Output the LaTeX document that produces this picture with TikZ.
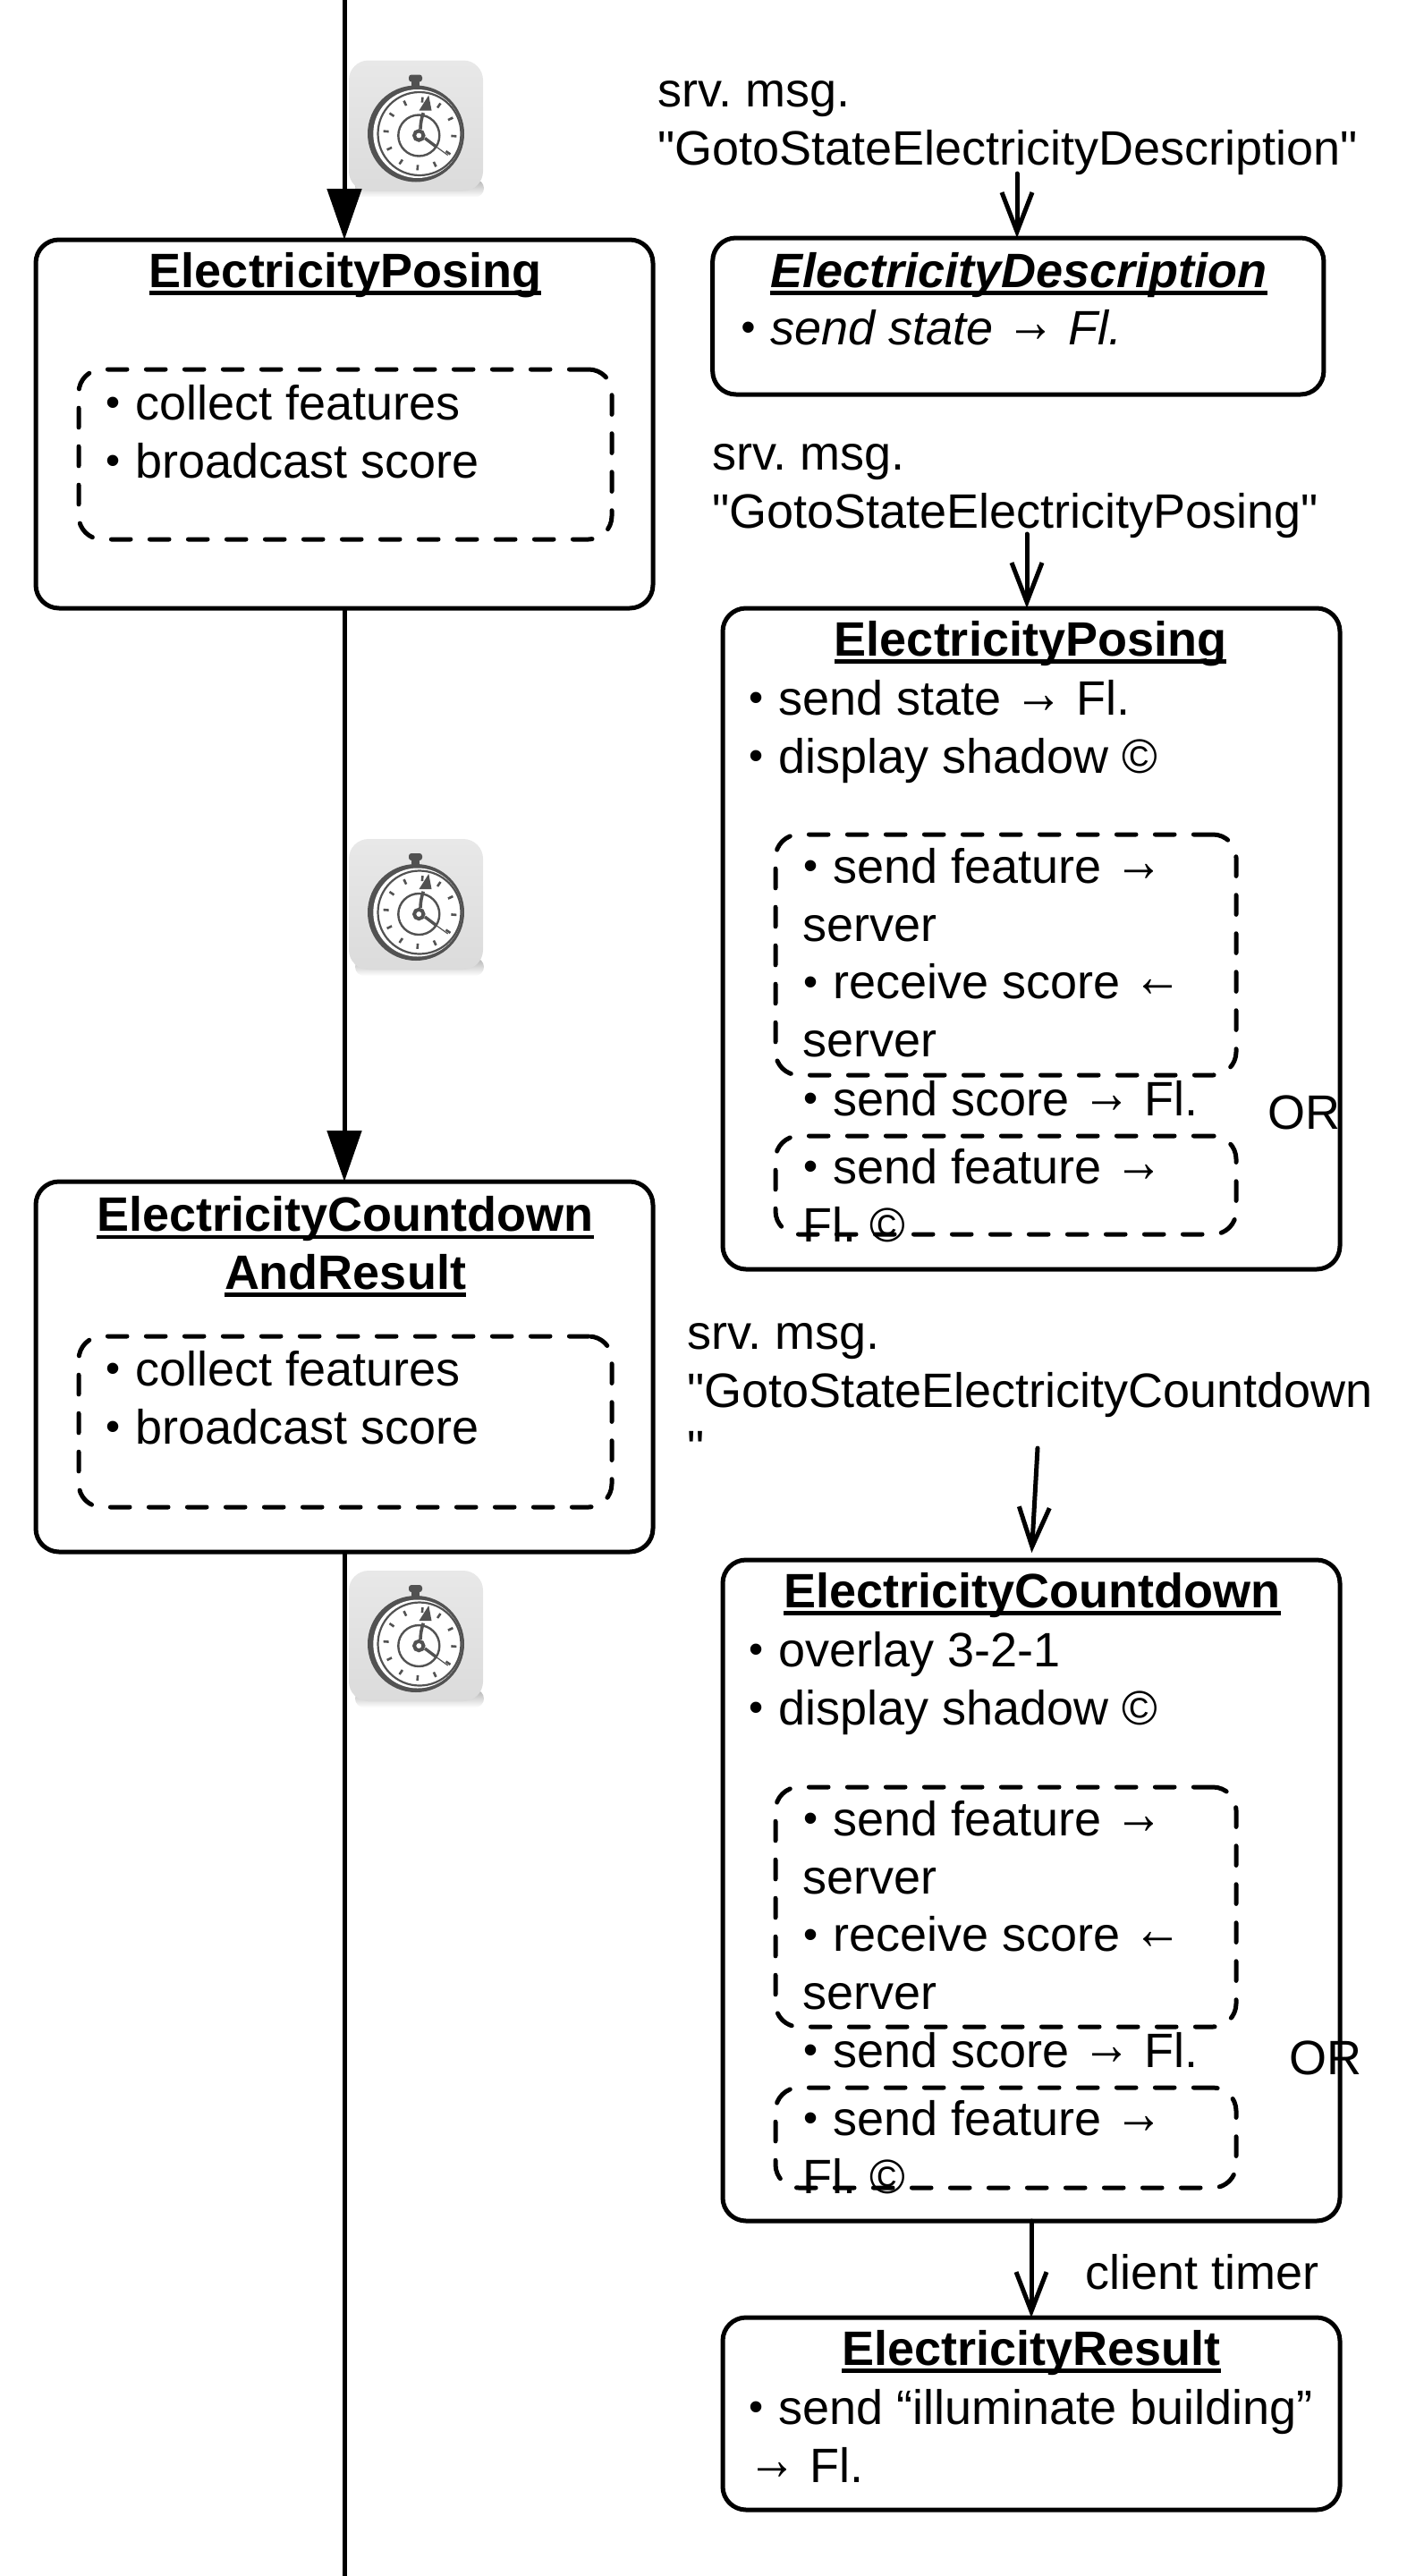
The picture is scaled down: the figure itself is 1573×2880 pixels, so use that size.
\documentclass[tikz,border=0pt]{standalone}
\usepackage{fontspec}
\setmainfont{Liberation Sans}
\newfontfamily\plainfont{Liberation Sans}
\usetikzlibrary{arrows.meta}
\usetikzlibrary{calc}
\newsavebox{\titlebox}
\newcommand{\titlerule}[1]{\sbox{\titlebox}{#1}\rlap{\rule[-4.4pt]{\wd\titlebox}{2.4pt}}\usebox{\titlebox}}
\newcommand{\listdot}{\makebox[9.45pt][c]{\raisebox{1.9pt}{\scalebox{.85}{•}}}}
\newcommand{\textarrow}[1]{\raisebox{1.2pt}{\scalebox{1}[1.25]{\bfseries #1}}}
\newcommand{\topstrut}{\rule{0pt}{22.4pt}}
\tikzset{
	statebox/.style={draw,rectangle,rounded corners=13pt,line width=2.5pt,outer sep=0pt,minimum width=345pt},
	dashbox/.style={draw,rectangle,rounded corners=13pt,line width=2.5pt,line cap=round,dash pattern=on 10.8pt off 10.7pt,outer sep=0pt},
	bodytext/.style={inner sep=0pt,anchor=north west,align=left,font=\fontsize{27}{32.35}\selectfont,execute at begin node=\frenchspacing\topstrut},
	msgtext/.style={bodytext,font=\fontsize{27}{32.35}\plainfont},
	titletext/.style={inner sep=0pt,anchor=north,align=center,font=\fontsize{27}{32.35}\selectfont\bfseries,execute at begin node=\frenchspacing\topstrut},
	mainline/.style={line width=2.5pt},
	msgline/.style={line width=2.5pt,line cap=round,-{Straight Barb[length=22pt,width=17pt,line width=2.5pt]}},
	stopwatch/.pic={
		\shade[top color=black!30,bottom color=white,draw=none,rounded corners=5pt] (-68,60) rectangle (76,80);
		\draw[draw=none,rounded corners=11pt,top color=black!9,middle color=black!3,bottom color=black!14] (-75,-73) rectangle (75,73);
		\fill[black!68,rounded corners=1.5pt] (-8,-57) rectangle (7,-49);
		\fill[black!68] (-5,-50) rectangle (4,-43);
		\fill[black!68] (0,9) circle (54);
		\fill[white] (1.8,9) circle (49.5);
		\draw[black!68,line width=1.1pt] (4,9) circle (46.5);
		\foreach \a in {4,34,...,334}
			\draw[black!68,line width=1.3pt] ($(4.5,9)+(\a:35)$)--($(4.5,9)+(\a:41)$);
		\draw[black!68,line width=1.2pt] (3.3,11) circle (23);
		\draw[black!68,line width=1.8pt] (5,4) to[bend left=8] (8.3,-14.3);
		\fill[black!68] (3.5,-17) -- (17.5,-17) -- (14.3,-34) -- cycle;
		\draw[black!68,line width=1.7pt] (10,14) -- (23.3,24);
		\draw[black!68,line width=.6pt] (23.3,24) -- (35.7,33);
		\draw[black!68,line width=2pt,fill=white] (3.3,11) circle (5.2);
	},
}
\begin{document}
\begin{tikzpicture}[x=0.5pt,y=-0.5pt]
	\useasboundingbox (0,0) rectangle (1573,2880);

	\pic at (465,140.5) {stopwatch};
	\pic at (465,1011) {stopwatch};
	\pic at (465,1829) {stopwatch};

	\node[statebox,minimum height=206pt] (leftPosing) at (385,474) {};
	\node[statebox,minimum height=207pt] (leftCountdown) at (385,1528) {};
	\node[dashbox,minimum width=298pt,minimum height=95pt] (leftPosingDash) at (386,508) {};
	\node[dashbox,minimum width=298pt,minimum height=95.5pt] (leftCountdownDash) at (386,1589.5) {};

	\coordinate (lineTop) at (385,0);
	\coordinate (lineBottom) at (385,2880);
	\draw[mainline,-{Triangle[length=28.5pt,width=19pt]}] (lineTop)--(leftPosing.north);
	\draw[mainline,-{Triangle[length=28.5pt,width=19pt]}] (leftPosing.south)--(leftCountdown.north);
	\draw[mainline] (leftCountdown.south)--(lineBottom);

	\node[titletext] (leftPosingTitle) at (386,276) {\titlerule{ElectricityPosing}};
	\node[bodytext] (leftPosingText) at (117,430) {\listdot{} collect features\\\listdot{} broadcast score};
	\node[titletext] (leftCountdownTitle) at (386,1337) {\titlerule{ElectricityCountdown}\\\titlerule{AndResult}};
	\node[bodytext] (leftCountdownText) at (117,1510) {\listdot{} collect features\\\listdot{} broadcast score};

	\node[msgtext] (descriptionMsg) at (735,90) {srv. msg.\\"GotoStateElectricityDescription"};
	\node[statebox,minimum width=341.6pt,minimum height=87.5pt] (description) at (1138.3,353.5) {};
	\node[titletext,font=\fontsize{27}{32.35}\selectfont\bfseries\itshape] (descriptionTitle) at (1139,276) {\titlerule{ElectricityDescription}};
	\node[bodytext,font=\fontsize{27}{32.35}\selectfont\itshape] (descriptionText) at (827,340) {\listdot{} send state \textarrow{→} Fl.};

	\node[msgtext] (posingMsg) at (796,496) {srv. msg.\\"GotoStateElectricityPosing"};
	\node[statebox,minimum height=369.5pt] (rightPosing) at (1153,1049.5) {};
	\node[titletext] (rightPosingTitle) at (1152,688) {\titlerule{ElectricityPosing}};
	\node[bodytext] (rightPosingText) at (836,760) {\listdot{} send state \textarrow{→} Fl.\\\listdot{} display shadow ©};
	\node[dashbox,minimum width=257.5pt,minimum height=134.5pt] (posingServerDash) at (1124.5,1067.5) {};
	\node[bodytext] (posingServerText) at (897,948) {\listdot{} send feature \textarrow{→}\\server\\\listdot{} receive score \textarrow{←}\\server};
	\node[bodytext] (posingScoreText) at (897,1202) {\listdot{} send score \textarrow{→} Fl.};
	\node[dashbox,minimum width=257.5pt,minimum height=55pt] (posingFlashDash) at (1124.5,1325) {};
	\node[bodytext] (posingFlashText) at (897,1284) {\listdot{} send feature \textarrow{→}\\Fl. ©};
	\node[bodytext] (posingOr) at (1417,1217) {OR};

	\node[msgtext] (countdownMsg) at (768,1479) {srv. msg.\\"GotoStateElectricityCountdown\\"};
	\node[statebox,minimum height=369.5pt] (rightCountdown) at (1153,2113.5) {};
	\node[titletext] (rightCountdownTitle) at (1154,1752) {\titlerule{ElectricityCountdown}};
	\node[bodytext] (rightCountdownText) at (836,1824) {\listdot{} overlay 3-2-1\\\listdot{} display shadow ©};
	\node[dashbox,minimum width=257.5pt,minimum height=134pt] (countdownServerDash) at (1124.5,2132) {};
	\node[bodytext] (countdownServerText) at (897,2013) {\listdot{} send feature \textarrow{→}\\server\\\listdot{} receive score \textarrow{←}\\server};
	\node[bodytext] (countdownScoreText) at (897,2266) {\listdot{} send score \textarrow{→} Fl.};
	\node[dashbox,minimum width=257.5pt,minimum height=56pt] (countdownFlashDash) at (1124.5,2390) {};
	\node[bodytext] (countdownFlashText) at (897,2348) {\listdot{} send feature \textarrow{→}\\Fl. ©};
	\node[bodytext] (countdownOr) at (1441,2274) {OR};

	\node[bodytext] (timerText) at (1213,2514) {client timer};
	\node[statebox,minimum height=107.5pt] (result) at (1153,2698.5) {};
	\node[titletext] (resultTitle) at (1153,2599) {\titlerule{ElectricityResult}};
	\node[bodytext] (resultText) at (836,2671) {\listdot{} send “illuminate building”\\\textarrow{→} Fl.};

	\coordinate (descriptionStart) at (1137,194);
	\coordinate (posingStart) at (1148,597);
	\coordinate (countdownStart) at (1160,1619);
	\draw[msgline] (descriptionStart)--(descriptionStart |- description.north);
	\draw[msgline] (posingStart)--(posingStart |- rightPosing.north);
	\draw[msgline,shorten >=4pt] (countdownStart)--(rightCountdown.north);
	\draw[msgline] (rightCountdown.south)--(result.north);
\end{tikzpicture}
\end{document}
